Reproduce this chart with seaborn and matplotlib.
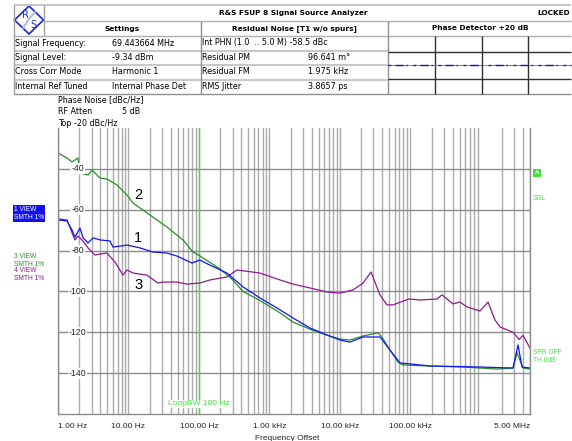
import numpy as np
import matplotlib
matplotlib.use("Agg")
import matplotlib.pyplot as plt
import matplotlib.transforms as mtransforms
from matplotlib.patches import Polygon, Rectangle
from matplotlib.ticker import LogLocator, NullFormatter
import seaborn as sns

# trace 1 (blue, "1 VIEW")
freq_1 = [1.0, 1.34, 1.58, 1.74, 2.05, 2.27, 2.67, 3.14, 3.95, 5.47, 6.04, 9.53, 14.6, 22.3,
          35.2, 48.9, 79.8, 103, 143, 250, 423, 736, 1282, 2163, 3767, 6577, 10050, 13930,
          21330, 37150, 51520, 71450, 190500, 975000, 2.87e6, 3.38e6, 3.85e6, 5.0e6]
pn_1 = [-65.0, -65.5, -69.9, -73.4, -69.0, -73.8, -76.3, -73.8, -74.8, -75.3, -78.3, -77.3, -78.7, -80.7,
        -81.2, -82.7, -86.1, -84.6, -87.1, -91.0, -97.8, -103.2, -108.1, -113.0, -117.9, -121.3, -123.8, -124.8,
        -122.3, -122.3, -128.7, -135.0, -136.5, -137.0, -137.5, -126.2, -137.0, -137.5]

# trace 2 (green, "3 VIEW")
freq_2 = [1.0, 1.34, 1.58, 1.92, 2.05, 2.67, 3.04, 3.95, 4.96, 6.87, 9.53, 11.6, 20.2, 35.2,
          59.4, 82.4, 103, 199, 294, 423, 736, 1282, 2163, 3767, 6577, 10050, 13930, 21330,
          34830, 39630, 51520, 66830, 78700, 190500, 559800, 1.70e6, 2.87e6, 3.27e6, 3.98e6, 5.0e6]
pn_2 = [-32.2, -34.7, -36.6, -34.7, -42.0, -43.0, -40.6, -44.5, -45.0, -47.9, -52.8, -56.7, -62.6, -68.5,
        -74.8, -80.7, -82.6, -89.0, -94.0, -100.0, -104.5, -109.5, -115.0, -118.5, -121.5, -123.3, -123.8, -121.8,
        -120.3, -122.3, -128.7, -134.6, -136.0, -136.5, -137.0, -138.0, -137.5, -130.0, -137.5, -138.0]

# trace 3 (purple, "4 VIEW")
freq_3 = [1.0, 1.34, 1.74, 1.92, 2.19, 2.67, 3.35, 3.95, 4.96, 6.44, 8.36, 9.53, 11.6, 18.3,
          26.2, 30.9, 48.9, 67.8, 103, 143, 250, 347, 736, 1282, 2163, 3767, 6577, 10050,
          15380, 21330, 27670, 37150, 46670, 56750, 95720, 137400, 239300, 281800, 403600,
          507000, 638300, 975000, 1.27e6, 1.59e6, 1.88e6, 2.87e6, 3.5e6, 3.98e6, 5.0e6]
pn_3 = [-64.5, -65.0, -74.8, -72.9, -74.8, -78.7, -82.2, -81.7, -81.2, -85.6, -92.0, -89.5, -91.0, -92.0,
        -95.9, -95.4, -95.4, -96.4, -95.9, -94.4, -92.9, -89.5, -91.0, -93.9, -96.4, -98.3, -100.3, -100.8,
        -99.3, -95.9, -90.5, -101.7, -106.6, -106.6, -103.7, -104.2, -103.7, -101.7, -106.1,
        -105.2, -107.6, -109.6, -105.2, -114.0, -117.4, -120.0, -123.5, -121.5, -127.7]

x_ticks = [1, 10, 100, 1e3, 1e4, 1e5, 5e6]
x_tick_labels = ["1.00 Hz", "10.00 Hz", "100.00 Hz", "1.00 kHz", "10.00 kHz", "100.00 kHz", "5.00 MHz"]
y_ticks = [-40, -60, -80, -100, -120, -140]
x_range = (1, 5e6)
y_range = (-160, -20)
loop_bw = 100

settings_rows = [("Signal Frequency:", "69.443664 MHz"),
                 ("Signal Level:", "-9.34 dBm"),
                 ("Cross Corr Mode", "Harmonic 1"),
                 ("Internal Ref Tuned", "Internal Phase Det")]
noise_rows = [("Int PHN (1.0  .. 5.0 M) -58.5 dBc", ""),
              ("Residual PM", "96.641 m\u00b0"),
              ("Residual FM", "1.975 kHz"),
              ("RMS Jitter", "3.8657 ps")]

BLUE = "#1414f0"
GREEN = "#2a8c2a"
PURPLE = "#8c1a8c"
LIME = "#3ee03e"

sns.set_style("white")
plt.rcParams["font.family"] = ["DejaVu Sans"]

W, H = 572, 441
fig = plt.figure(figsize=(W / 100, H / 100), dpi=100)

# pixel-space overlay for header table and side annotations
ov = fig.add_axes([0, 0, 1, 1])
ov.set_xlim(0, W)
ov.set_ylim(H, 0)
ov.axis("off")

def hl(y, x0, x1, c, lw):
    ov.plot([x0, x1], [y, y], color=c, lw=lw, solid_capstyle="butt")

def vl(x, y0, y1, c, lw):
    ov.plot([x, x], [y0, y1], color=c, lw=lw, solid_capstyle="butt")

TL, TR = 14, 571
rows = [5, 21, 36, 50.5, 65, 79.5, 94]
hl(rows[0], TL, TR, "#c8c8c8", 1.5)
hl(rows[1], 44, TR, "#b0b0b0", 1.0)
hl(rows[2], TL, TR, "#b0b0b0", 1.0)
for y in rows[3:6]:
    hl(y, TL, 388, "#c8c8c8", 1.5)
hl(rows[6], TL, TR, "#909090", 1.0)
vl(TL, 5, 94, "#a0a0a0", 1.0)
vl(44, 5, 36, "#a0a0a0", 1.0)
vl(201, 21, 94, "#909090", 1.0)
vl(388, 21, 94, "#909090", 1.0)

# phase detector mini panel
for x in [435, 482, 528]:
    vl(x, 36, 94, "#303030", 1.0)
for y in [52, 79]:
    hl(y, 388, TR, "#303030", 1.0)
hl(65, 388, TR, "#6060ff", 0.6)
ov.plot([388, TR], [65, 65], color="#1010c0", lw=1.0, dashes=(2, 3, 6, 2, 1, 4))

# logo
ov.add_patch(Polygon([[14.5, 20], [29, 6], [43.5, 20], [29, 34]], closed=True,
                     fc="white", ec="#2233cc", lw=1.3))
ov.plot([23, 29, 35], [28, 19, 12], color="#a8b8ee", lw=1.4)
ov.text(25, 15.5, "R", color="#2233cc", fontsize=7, ha="center", va="center")
ov.text(33, 24.5, "S", color="#2233cc", fontsize=7, ha="center", va="center")

bold = dict(fontsize=5.3, fontweight="bold", va="center", color="black")
ov.text(293, 13, "R&S FSUP 8 Signal Source Analyzer", ha="center", **bold)
ov.text(570, 13, "LOCKED", ha="right", **bold)
ov.text(122.5, 28.5, "Settings", ha="center", **bold)
ov.text(294.5, 28.5, "Residual Noise [T1 w/o spurs]", ha="center", **bold)
ov.text(480, 28.5, "Phase Detector +20 dB", ha="center", **bold)

row_y = [43, 57.5, 72, 86.5]
reg = dict(fontsize=5.8, va="center", color="black")
for y, (lab, val) in zip(row_y, settings_rows):
    ov.text(15, y, lab, ha="left", **reg)
    ov.text(112, y, val, ha="left", **reg)
for y, (lab, val) in zip(row_y, noise_rows):
    ov.text(202, y, lab, ha="left", **reg)
    if val:
        ov.text(308, y, val, ha="left", **reg)

ov.text(58, 100, "Phase Noise [dBc/Hz]", ha="left", **reg)
ov.text(58, 112, "RF Atten", ha="left", **reg)
ov.text(122, 112, "5 dB", ha="left", **reg)
ov.text(58, 123, "Top -20 dBc/Hz", ha="left", **reg)

# left trace legend
side = dict(fontsize=4.8, family="Liberation Sans", ha="left", va="center")
ov.add_patch(Rectangle((13, 205), 32, 17, fc="#1010ee", ec="none"))
ov.text(14, 209.5, "1 VIEW", color="white", **side)
ov.text(14, 217.5, "SMTH 1%", color="white", **side)
ov.text(14, 256, "3 VIEW", color=GREEN, **side)
ov.text(14, 264, "SMTH 1%", color=GREEN, **side)
ov.text(14, 271, "4 VIEW", color=PURPLE, **side)
ov.text(14, 279, "SMTH 1%", color=PURPLE, **side)

# right annotations
ov.add_patch(Rectangle((533, 168.5), 7.5, 8.5, fc=LIME, ec="none"))
ov.text(536.7, 173, "A", color="white", fontsize=4.5, fontweight="bold",
        family="Liberation Sans", ha="center", va="center")
ov.text(533, 198, "SGL", color=LIME, **side)
ov.text(533, 353, "SPR OFF", color=LIME, **side)
ov.text(533, 361, "TH 0dB", color=LIME, **side)

# main plot
ax = fig.add_axes([58 / W, (H - 414) / H, 472 / W, 286 / H])
ax.set_facecolor("white")
ax.set_xscale("log")
ax.set_xlim(*x_range)
ax.set_ylim(*y_range)

ax.set_xticks(x_ticks)
ax.set_xticklabels(x_tick_labels, fontsize=6, family="Liberation Sans")
ax.xaxis.set_minor_locator(LogLocator(base=10, subs=np.arange(2, 10), numticks=60))
ax.xaxis.set_minor_formatter(NullFormatter())
ax.set_yticks(y_ticks)
ax.set_yticklabels([])
ax.tick_params(which="both", length=0)
ax.tick_params(axis="x", pad=6.5)
labs = ax.get_xticklabels()
labs[0].set_horizontalalignment("left")
labs[-1].set_horizontalalignment("right")

ax.grid(True, which="both", axis="x", color="#ababab", lw=1.0)
ax.grid(True, which="major", axis="y", color="#8c8c8c", lw=1.0)
ax.set_axisbelow(True)
for s in ["left", "bottom", "right"]:
    ax.spines[s].set_color("#8c8c8c")
    ax.spines[s].set_linewidth(1.0)
ax.spines["top"].set_visible(False)

ax.axvline(loop_bw, color=LIME, lw=1.0, zorder=1.5)

sns.lineplot(x=freq_3, y=pn_3, ax=ax, color=PURPLE, lw=0.9, sort=False, estimator=None)
sns.lineplot(x=freq_2, y=pn_2, ax=ax, color=GREEN, lw=0.9, sort=False, estimator=None)
sns.lineplot(x=freq_1, y=pn_1, ax=ax, color=BLUE, lw=0.9, sort=False, estimator=None)

ytr = mtransforms.blended_transform_factory(ax.transAxes, ax.transData)
for v in y_ticks:
    ax.text(0.0413, v, f"{v}", transform=ytr, ha="center", va="center", fontsize=6.3,
            family="Liberation Sans", bbox=dict(fc="white", ec="none", pad=0.6), zorder=4)

num = dict(fontsize=10.5, family="Liberation Sans", ha="center", va="center", color="black")
ax.text(13.7, -52.8, "2", **num)
ax.text(13.7, -73.8, "1", **num)
ax.text(13.7, -96.9, "3", **num)

ax.text(loop_bw, -155, "LoopBW 100 Hz", color=LIME, fontsize=6, family="Liberation Sans",
        ha="center", va="center", bbox=dict(fc="white", ec="none", pad=0.3), zorder=4)

ax.set_xlabel("Frequency Offset", fontsize=6, family="Liberation Sans")
ax.xaxis.set_label_coords((287 - 58) / 472, -(435 - 414) / 286)
ax.set_ylabel("")

fig.savefig("out.png", dpi=100)
